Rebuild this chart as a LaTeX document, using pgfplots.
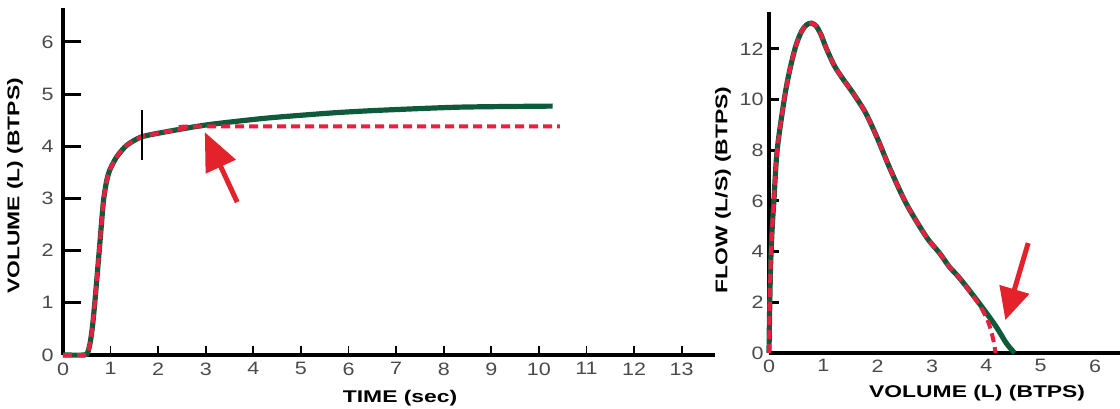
\documentclass[border=0pt]{standalone}
\usepackage{fontspec}
\setmainfont{Liberation Sans}
\newfontfamily\tickfont[FakeStretch=1.2]{Liberation Sans}
\newfontfamily\labfont[FakeStretch=1.35]{Liberation Sans}
\usepackage{pgfplots}
\usepackage{pgfplotstable}
\pgfplotsset{compat=1.18}
\usetikzlibrary{arrows.meta}
\definecolor{cgreen}{HTML}{0F5A3A}
\definecolor{cred}{HTML}{E8203F}
\definecolor{carrow}{HTML}{E3222B}
\definecolor{tickgray}{HTML}{4A4A4A}
\newcommand{\labfnt}{\labfont\bfseries\fontsize{17}{19}\selectfont}

\pgfplotstableread{
t v
0 0
0.45 0
0.52 0.05
0.57 0.23
0.62 0.55
0.67 1.02
0.72 1.55
0.78 2.2
0.85 2.95
0.92 3.35
0.99 3.56
1.13 3.80
1.34 4.02
1.65 4.18
2.18 4.28
3.02 4.41
4.28 4.54
5.67 4.64
6.66 4.69
8.34 4.75
10.29 4.77
}\volgreen

\pgfplotstableread{
t v
0 0
0.45 0
0.52 0.05
0.57 0.23
0.62 0.55
0.67 1.02
0.72 1.55
0.78 2.2
0.85 2.95
0.92 3.35
0.99 3.56
1.13 3.80
1.34 4.02
1.65 4.18
2.18 4.28
2.60 4.35
2.95 4.38
10.44 4.38
}\volred

\pgfplotstableread{
v f
0 0
0.01 1.5
0.03 3.5
0.06 5.0
0.09 6.0
0.15 8.0
0.28 10.0
0.37 11.05
0.49 12.1
0.60 12.7
0.69 12.95
0.78 13.02
0.87 12.9
0.96 12.55
1.05 12.05
1.20 11.35
1.35 10.85
1.55 10.25
1.78 9.47
2.00 8.45
2.21 7.36
2.52 5.92
2.89 4.6
3.14 3.94
3.32 3.40
3.51 2.95
3.87 1.96
4.18 1.04
4.37 0.38
4.52 0
}\flowgreen

\pgfplotstableread{
v f
0 0
0.01 1.5
0.03 3.5
0.06 5.0
0.09 6.0
0.15 8.0
0.28 10.0
0.37 11.05
0.49 12.1
0.60 12.7
0.69 12.95
0.78 13.02
0.87 12.9
0.96 12.55
1.05 12.05
1.20 11.35
1.35 10.85
1.55 10.25
1.78 9.47
2.00 8.45
2.21 7.36
2.52 5.92
2.89 4.6
3.14 3.94
3.32 3.40
3.51 2.95
3.87 1.90
4.03 1.25
4.12 0.6
4.17 0
}\flowred

\begin{document}
\begin{tikzpicture}
\useasboundingbox (0,0) rectangle (1120bp,409bp);
\pgfplotsset{
  common/.style={
    scale only axis, anchor=south west, clip=false,
    axis lines=left, axis line style={-, line width=3.5bp, black},
    tick align=inside,
    /pgf/number format/assume math mode=true,
    tick label style={font=\tickfont\fontsize{18}{20}\selectfont, text=tickgray},
  }
}
% ---------- left chart ----------
\begin{axis}[common,
  at={(63bp,54bp)}, width=652bp, height=347bp,
  xmin=0, xmax=13.7, ymin=0, ymax=6.65,
  xtick={0,...,13}, ytick={0,...,6},
  major tick length=18bp,
  xtick style={draw=none},
  ytick style={line width=3bp, black},
  xticklabel style={yshift=-4bp},
  yticklabel style={xshift=-6bp},
  xlabel={TIME (sec)}, ylabel={VOLUME (L) (BTPS)},
  every axis x label/.style={at={(rel axis cs:0.517,-0.124)}, anchor=center, font=\labfnt},
  every axis y label/.style={at={(rel axis cs:-0.0736,0.487)}, rotate=90, anchor=center, font=\labfnt},
]
\addplot[cgreen, line width=5.2bp, smooth, tension=0.4] table[x=t,y=v] {\volgreen};
\addplot[cred, line width=4bp, dash pattern=on 9bp off 5bp, smooth, tension=0.4] table[x=t,y=v] {\volred};
\addplot[black, line width=1.3bp] coordinates {(1.66,3.74) (1.66,4.69)};
\addplot[carrow, line width=5bp, -{Triangle[length=38bp,width=32bp]}] coordinates {(3.66,2.93) (2.98,4.27)};
\end{axis}
% x ticks of left chart (shorter, thinner)
\begin{axis}[
  scale only axis, anchor=south west, at={(63bp,54bp)}, width=652bp, height=347bp,
  xmin=0, xmax=13.7, ymin=0, ymax=6.65,
  axis x line=bottom, axis y line=none, axis line style={draw=none},
  xtick={1,...,13}, xticklabels={}, ytick=\empty,
  tick align=inside, major tick length=9bp,
  xtick style={line width=1.8bp, black},
]
\end{axis}
% ---------- right chart ----------
\begin{axis}[common,
  at={(769bp,56bp)}, width=351bp, height=341bp,
  xmin=0, xmax=6.46, ymin=0, ymax=13.46,
  xtick={0,...,6}, ytick={0,2,...,12},
  major tick length=10bp,
  xtick style={draw=none},
  ytick style={line width=3bp, black},
  xticklabel style={yshift=-3bp},
  yticklabel style={xshift=-2bp},
  xlabel={VOLUME (L) (BTPS)}, ylabel={FLOW (L/S) (BTPS)},
  every axis x label/.style={at={(rel axis cs:0.593,-0.117)}, anchor=center, font=\labfnt},
  every axis y label/.style={at={(rel axis cs:-0.131,0.478)}, rotate=90, anchor=center, font=\labfnt},
]
\addplot[cgreen, line width=5.2bp, smooth, tension=0.5] table[x=v,y=f] {\flowgreen};
\addplot[cred, line width=4bp, dash pattern=on 9bp off 5bp, smooth, tension=0.5] table[x=v,y=f] {\flowred};
\addplot[carrow, line width=5bp, -{Triangle[length=32bp,width=30bp]}] coordinates {(4.77,4.34) (4.35,1.30)};
\end{axis}
\end{tikzpicture}
\end{document}
